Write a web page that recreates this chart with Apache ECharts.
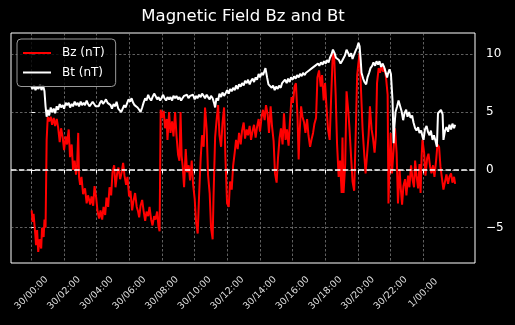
<!DOCTYPE html>
<html>
<head>
<meta charset="utf-8">
<script src="https://cdn.jsdelivr.net/npm/echarts@6/dist/echarts.min.js"></script>
<style>
  html, body { margin: 0; padding: 0; background: #000; }
  #chart { width: 515px; height: 325px; }
</style>
</head>
<body>
<div id="chart"></div>
<script>
// time axis in minutes since 30/00:00
const xTickMins = [0, 120, 240, 360, 480, 600, 720, 840, 960, 1080, 1200, 1320, 1440];
const xTickLabels = ["30/00:00", "30/02:00", "30/04:00", "30/06:00", "30/08:00", "30/10:00", "30/12:00",
  "30/14:00", "30/16:00", "30/18:00", "30/20:00", "30/22:00", "1/00:00"];
const yTicks = [-5, 0, 5, 10];
const yTickLabels = ["\u22125", "0", "5", "10"];

// Bz (nT)
const bzMin = [
  1, 4, 8, 14, 17, 21, 25, 30, 36, 39,
  45, 48, 52, 56, 60, 65, 71, 76, 82, 87,
  93, 98, 104, 109, 115, 120, 126, 131, 137, 142,
  148, 153, 159, 164, 168, 172, 175, 179, 184, 190,
  197, 203, 208, 216, 221, 227, 232, 238, 243, 249,
  254, 260, 265, 271, 276, 282, 287, 293, 298, 304,
  309, 315, 320, 326, 331, 337, 342, 348, 353, 359,
  364, 370, 375, 381, 387, 392, 396, 401, 407, 412,
  418, 423, 429, 434, 440, 445, 451, 456, 462, 467,
  471, 475, 480, 486, 491, 497, 500, 506, 511, 517,
  522, 528, 533, 539, 544, 548, 552, 556, 561, 567,
  572, 578, 583, 589, 594, 600, 605, 611, 616, 622,
  627, 633, 638, 644, 649, 655, 660, 666, 669, 675,
  680, 686, 691, 697, 702, 708, 713, 719, 725, 730,
  736, 741, 747, 752, 758, 763, 769, 774, 780, 785,
  791, 796, 802, 807, 813, 818, 824, 829, 835, 840,
  846, 851, 857, 862, 868, 873, 879, 884, 890, 895,
  901, 906, 912, 917, 923, 928, 934, 939, 945, 950,
  956, 961, 967, 972, 978, 982, 985, 991, 996, 1002,
  1007, 1013, 1018, 1024, 1029, 1035, 1040, 1046, 1051, 1057,
  1063, 1068, 1074, 1079, 1085, 1090, 1096, 1101, 1107, 1112,
  1118, 1123, 1129, 1134, 1140, 1143, 1147, 1153, 1158, 1164,
  1169, 1175, 1180, 1186, 1191, 1197, 1202, 1206, 1211, 1217,
  1222, 1228, 1233, 1239, 1244, 1250, 1255, 1261, 1266, 1270,
  1276, 1281, 1287, 1292, 1298, 1303, 1309, 1312, 1316, 1320,
  1325, 1331, 1336, 1342, 1347, 1353, 1356, 1362, 1367, 1373,
  1378, 1384, 1389, 1395, 1401, 1406, 1410, 1415, 1421, 1426,
  1430, 1434, 1437, 1443, 1448, 1454, 1459, 1465, 1470, 1476,
  1481, 1487, 1492, 1498, 1503, 1509, 1514, 1520, 1525, 1531,
  1536, 1542, 1547, 1553, 1557
];
const bzVal = [
  -3.5, -4.5, -3.8, -5.5, -6.5, -5.2, -7.1, -6.0, -6.8, -5.0,
  -5.8, -4.3, -5.0, 2.6, 4.6, 4.2, 4.6, 3.9, 4.5, 3.8,
  4.4, 3.7, 2.4, 3.6, 2.8, 1.7, 2.9, 2.2, 3.5, 1.1,
  2.2, 0.0, 0.8, -0.4, 0.5, 3.2, -0.6, -1.3, -0.6, -2.1,
  -1.6, -2.9, -2.2, -3.0, -2.3, -3.1, -1.4, -2.4, -3.6, -4.2,
  -3.5, -4.3, -3.2, -3.9, -2.4, -3.2, -1.5, -2.2, -0.2, 0.4,
  -1.5, -0.3, 0.2, -0.8, -0.3, 0.6, -0.5, -1.3, -0.6, -2.3,
  -1.8, -3.5, -2.7, -2.0, -3.2, -3.6, -4.1, -3.1, -2.6, -3.5,
  -4.4, -3.6, -4.0, -3.2, -4.3, -4.8, -4.0, -4.3, -3.6, -4.9,
  -5.3, 5.2, 4.5, 5.1, 3.6, 4.4, 2.6, 5.0, 3.2, 4.2,
  2.9, 5.0, 3.0, 1.3, 0.8, 5.0, 1.2, 0.3, -1.5, 1.8,
  -0.2, 0.4, -0.9, 0.8, -1.2, -2.5, -4.5, -5.5, -2.3, 1.0,
  3.0, 2.0, 5.4, 3.5, -0.4, -2.0, -5.0, -6.0, -2.5, 2.8,
  4.2, 5.6, 3.0, 2.0, 4.0, 5.4, 1.0, -2.9, -3.2, -1.0,
  -1.7, 0.3, 1.5, 2.6, 1.8, 3.2, 2.2, 3.4, 4.1, 2.7,
  3.5, 3.0, 3.8, 2.6, 3.4, 3.9, 2.8, 3.7, 4.4, 3.3,
  4.6, 5.2, 4.3, 5.6, 4.8, 3.2, 5.5, 3.8, 2.5, -0.3,
  -1.1, 1.0, 2.8, 3.6, 2.2, 4.9, 2.6, 3.5, 2.1, 4.2,
  6.3, 5.8, 7.2, 7.5, 4.5, 0.9, 3.0, 5.5, 4.6, 4.1,
  3.2, 4.4, 3.0, 2.0, 2.6, 3.2, 4.0, 4.5, 8.0, 8.6,
  7.2, 8.2, 6.0, 7.5, 5.2, 3.5, 2.6, 6.0, 9.8, 10.1,
  6.5, 2.3, -0.6, 0.8, -2.0, 2.8, -2.0, 0.5, 6.8, 5.2,
  3.5, 1.0, -1.0, -1.8, 2.5, 8.2, 9.3, 10.1, 7.0, 3.5,
  1.7, -0.3, 1.2, 3.0, 5.5, 3.5, 2.8, 1.5, 3.0, 7.5,
  8.8, 8.4, 9.0, 8.5, 8.8, 8.0, 6.5, -2.9, 0.5, 3.2,
  -0.3, 1.8, 3.6, 1.5, -2.9, 0.0, -1.2, -3.0, -1.4, -0.8,
  -2.2, -0.5, -1.5, 0.4, -0.9, -1.5, 0.8, -0.5, -1.6, 0.5,
  -2.0, 1.2, 2.6, 1.5, -0.5, 1.0, 1.4, 0.3, -0.3, 0.4,
  -0.6, 0.8, 2.2, 2.0, 0.3, -0.8, -1.7, -1.0, -0.4, -1.2,
  -0.6, -0.3, -1.1, -0.6, -1.2
];

// Bt (nT)
const btMin = [
  0, 4, 10, 15, 21, 26, 32, 37, 43, 48,
  52, 56, 60, 65, 71, 76, 82, 87, 93, 98,
  104, 109, 115, 120, 126, 131, 137, 142, 148, 153,
  159, 164, 170, 175, 181, 186, 192, 197, 203, 208,
  214, 219, 225, 230, 236, 241, 247, 252, 258, 263,
  269, 274, 280, 285, 291, 296, 302, 308, 313, 319,
  324, 330, 335, 341, 346, 352, 357, 363, 368, 374,
  379, 385, 390, 396, 401, 407, 412, 418, 423, 429,
  434, 440, 445, 451, 456, 462, 467, 473, 478, 484,
  489, 495, 500, 506, 511, 517, 522, 528, 533, 539,
  544, 550, 555, 561, 566, 572, 577, 583, 588, 594,
  600, 605, 610, 616, 622, 627, 633, 638, 644, 649,
  655, 660, 666, 671, 675, 680, 686, 691, 697, 702,
  708, 713, 719, 725, 730, 736, 741, 747, 752, 758,
  763, 769, 774, 780, 785, 791, 796, 802, 807, 813,
  818, 824, 829, 835, 840, 846, 851, 857, 860, 866,
  871, 877, 883, 888, 894, 899, 905, 910, 916, 921,
  927, 932, 938, 943, 949, 954, 960, 965, 971, 976,
  982, 987, 993, 998, 1004, 1009, 1015, 1020, 1026, 1031,
  1036, 1042, 1047, 1053, 1058, 1064, 1070, 1075, 1081, 1086,
  1092, 1097, 1103, 1108, 1114, 1119, 1125, 1130, 1136, 1141,
  1147, 1152, 1158, 1164, 1169, 1175, 1180, 1186, 1191, 1197,
  1202, 1206, 1210, 1213, 1219, 1224, 1230, 1235, 1241, 1246,
  1252, 1257, 1263, 1268, 1274, 1279, 1285, 1290, 1296, 1301,
  1307, 1310, 1316, 1321, 1327, 1331, 1334, 1338, 1344, 1349,
  1355, 1360, 1366, 1371, 1377, 1382, 1388, 1393, 1399, 1404,
  1410, 1415, 1421, 1426, 1432, 1437, 1441, 1446, 1452, 1457,
  1463, 1468, 1474, 1479, 1485, 1490, 1494, 1500, 1505, 1511,
  1514, 1520, 1525, 1531, 1536, 1542, 1547, 1553, 1557
];
const btVal = [
  7.2, 7.0, 7.3, 6.9, 7.2, 7.0, 7.4, 6.9, 7.3, 6.8,
  5.5, 4.6, 5.2, 4.7, 5.4, 5.0, 5.3, 4.9, 5.5, 5.2,
  5.7, 5.4, 5.6, 5.3, 5.8, 5.6, 5.8, 5.4, 5.7, 5.5,
  5.9, 5.6, 5.8, 5.5, 5.9, 5.6, 5.8, 5.6, 6.0, 5.7,
  5.5, 5.6, 5.9, 5.8, 5.5, 5.4, 5.5, 5.8, 6.0, 5.7,
  5.9, 6.1, 5.8, 5.9, 5.6, 5.3, 5.7, 5.5, 5.9, 5.3,
  5.4, 5.0, 4.9, 5.6, 5.4, 5.8, 6.1, 5.9, 6.2, 5.8,
  5.6, 5.7, 5.4, 5.2, 5.0, 5.4, 5.8, 6.2, 6.0, 6.5,
  6.2, 6.0, 6.3, 6.6, 6.4, 6.1, 6.3, 6.0, 6.2, 6.5,
  6.2, 6.0, 6.3, 6.1, 6.3, 6.0, 6.4, 6.2, 6.4, 6.1,
  6.3, 6.0, 6.2, 6.4, 6.3, 6.5, 6.2, 6.4, 6.3, 6.5,
  6.1, 6.4, 6.2, 6.5, 6.3, 6.6, 6.4, 6.2, 6.5, 6.3,
  6.1, 6.4, 6.2, 5.8, 5.4, 6.2, 6.0, 6.6, 6.3, 6.7,
  6.4, 6.6, 6.9, 6.6, 7.0, 6.8, 7.1, 6.9, 7.3, 7.0,
  7.4, 7.2, 7.5, 7.3, 7.7, 7.5, 7.8, 7.4, 7.7, 7.9,
  7.6, 8.0, 7.8, 8.3, 8.0, 8.4, 8.2, 8.6, 8.8, 8.0,
  7.4, 7.5, 7.1, 7.3, 6.9, 7.2, 7.0, 7.3, 7.1, 7.5,
  7.4, 7.8, 7.5, 7.9, 7.6, 8.0, 7.8, 8.1, 7.9, 8.2,
  8.0, 8.3, 8.1, 8.4, 8.2, 8.4, 8.3, 8.6, 8.5, 8.8,
  8.7, 9.0, 8.9, 9.2, 9.0, 9.3, 9.1, 9.4, 9.2, 9.5,
  9.3, 9.7, 10.0, 10.4, 10.1, 9.7, 9.8, 9.5, 9.2, 9.4,
  9.3, 9.9, 10.4, 10.1, 9.8, 10.1, 9.6, 10.0, 10.3, 10.6,
  11.0, 10.7, 9.5, 8.4, 7.9, 7.6, 7.4, 8.0, 8.4, 8.8,
  9.0, 9.3, 9.0, 9.4, 9.1, 9.4, 8.9, 9.2, 8.9, 8.5,
  8.0, 8.3, 8.7, 8.3, 6.0, 2.3, 3.8, 5.0, 5.5, 6.0,
  5.9, 5.1, 4.3, 4.9, 5.2, 4.6, 5.0, 4.5, 4.7, 4.1,
  3.6, 3.4, 3.7, 3.2, 3.4, 2.9, 2.6, 3.5, 3.8, 3.3,
  3.0, 3.4, 2.6, 3.0, 2.5, 2.0, 4.9, 5.0, 5.2, 4.8,
  2.6, 3.4, 3.7, 3.3, 3.9, 3.5, 4.0, 3.6, 3.9
];

const font = "DejaVu Sans";
const gridLine = { show: true, lineStyle: { color: "#8a8a8a", width: 0.7, type: [2.5, 2] } };

const chart = echarts.init(document.getElementById("chart"));

const option = {
  backgroundColor: "#000",
  animation: false,
  title: {
    text: "Magnetic Field Bz and Bt",
    left: 243,
    top: 8,
    padding: 0,
    textAlign: "center",
    textStyle: { color: "#fff", fontSize: 16.5, fontWeight: "normal", fontFamily: font },
  },
  legend: {
    orient: "vertical",
    left: 17,
    top: 39,
    z: 10,
    padding: [8, 11, 8, 5],
    itemGap: 7.5,
    itemWidth: 28,
    itemHeight: 14,
    // hide the marker circle, keep only the line
    itemStyle: { opacity: 0 },
    backgroundColor: "rgba(0,0,0,0.8)",
    borderColor: "#999",
    borderWidth: 1,
    borderRadius: 4,
    textStyle: { color: "#fff", fontSize: 12, fontFamily: font, padding: [0, 0, 0, 6] },
    data: ["Bz (nT)", "Bt (nT)"],
  },
  grid: {
    left: 11,
    right: 40,
    top: 33,
    bottom: 62,
    show: true,
    borderColor: "#fff",
    borderWidth: 1,
    backgroundColor: "#000",
  },
  xAxis: {
    type: "value",
    min: -75,
    max: 1630,
    axisLine: { show: false },
    axisTick: { show: true, length: 3.5, customValues: xTickMins, lineStyle: { color: "#fff" } },
    axisLabel: {
      customValues: xTickMins,
      formatter: (v) => xTickLabels[xTickMins.indexOf(v)],
      rotate: 45,
      align: "center",
      verticalAlign: "middle",
      margin: 30,
      fontSize: 9.5,
      color: "#ddd",
      fontFamily: font,
    },
    splitLine: gridLine,
  },
  yAxis: {
    type: "value",
    position: "right",
    min: -8.05,
    max: 11.84,
    axisLine: { show: false },
    axisTick: { show: true, length: 3.5, customValues: yTicks, lineStyle: { color: "#fff" } },
    axisLabel: {
      customValues: yTicks,
      formatter: (v) => yTickLabels[yTicks.indexOf(v)],
      margin: 11,
      fontSize: 12,
      color: "#fff",
      fontFamily: font,
    },
    splitLine: gridLine,
  },
  series: [
    {
      name: "Bz (nT)",
      type: "line",
      symbol: "none",
      color: "#ff0000",
      lineStyle: { width: 2 },
      data: bzMin.map((m, i) => [m, bzVal[i]]),
    },
    {
      name: "Bt (nT)",
      type: "line",
      symbol: "none",
      color: "#ffffff",
      lineStyle: { width: 2 },
      data: btMin.map((m, i) => [m, btVal[i]]),
      markLine: {
        silent: true,
        symbol: ["none", "none"],
        label: { show: false },
        lineStyle: { color: "#fff", width: 1.6, type: [5.5, 2.4] },
        data: [{ yAxis: 0 }],
      },
    },
  ],
};

option && chart.setOption(option);
</script>
</body>
</html>
